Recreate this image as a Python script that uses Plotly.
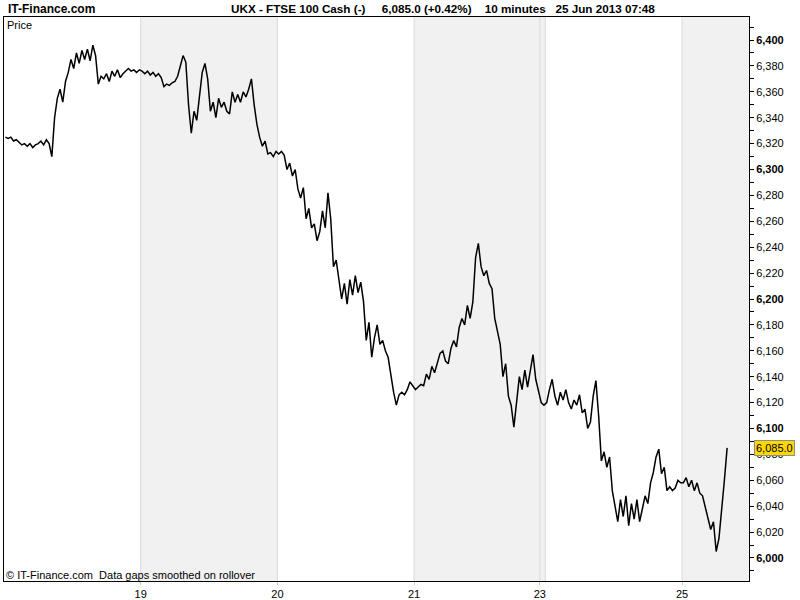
import plotly.graph_objects as go

# ---------------- data (10-minute closes) ----------------
day_labels = ["18", "19", "20", "21", "23", "24", "25"]

day18 = [6325, 6324, 6325, 6322, 6323, 6321, 6319, 6320, 6318, 6320,
         6317, 6319, 6320, 6322, 6319, 6323, 6320, 6310, 6340, 6355,
         6362, 6352, 6368, 6375, 6385, 6378, 6390, 6382, 6392, 6385,
         6393, 6384, 6396, 6388, 6366, 6372, 6370, 6374, 6368, 6376,
         6372, 6377, 6371, 6374, 6376, 6378, 6376, 6377, 6375, 6377]
day19 = [6376, 6374, 6376, 6373, 6375, 6372, 6374, 6371, 6364, 6366,
         6365, 6367, 6368, 6372, 6380, 6388, 6383, 6350, 6328, 6345,
         6338, 6355, 6375, 6382, 6370, 6345, 6352, 6340, 6355, 6348,
         6352, 6345, 6343, 6360, 6352, 6358, 6352, 6360, 6356, 6362,
         6370, 6350, 6335, 6325, 6318, 6322, 6312, 6313, 6310, 6314]
day20 = [6312, 6314, 6311, 6300, 6305, 6295, 6300, 6285, 6278, 6286,
         6262, 6270, 6255, 6258, 6245, 6252, 6268, 6255, 6282, 6262,
         6225, 6230, 6215, 6200, 6212, 6196, 6215, 6203, 6218, 6205,
         6213, 6198, 6168, 6182, 6155, 6170, 6180, 6165, 6168, 6160,
         6155, 6140, 6128, 6118, 6126, 6128, 6126, 6130, 6136, 6133]
day21 = [6130, 6132, 6134, 6133, 6142, 6138, 6148, 6143, 6150, 6158,
         6160, 6152, 6150, 6162, 6168, 6163, 6178, 6185, 6180, 6195,
         6185, 6198, 6232, 6243, 6225, 6218, 6222, 6212, 6208, 6185,
         6175, 6165, 6140, 6150, 6125, 6118, 6101, 6122, 6140, 6130,
         6145, 6132, 6145, 6157, 6138, 6130]
day23 = [6120, 6118]
day24 = [6120, 6130, 6138, 6125, 6118, 6128, 6122, 6130, 6120, 6115,
         6122, 6118, 6126, 6112, 6115, 6100, 6105, 6125, 6137, 6110,
         6075, 6082, 6070, 6078, 6052, 6040, 6028, 6045, 6032, 6048,
         6025, 6042, 6030, 6045, 6028, 6038, 6048, 6042, 6058, 6066,
         6078, 6084, 6065, 6070, 6052, 6055, 6052, 6054, 6060, 6058]
day25 = [6058, 6062, 6055, 6060, 6052, 6058, 6050, 6048, 6040, 6030,
         6022, 6028, 6005, 6015, 6035, 6060, 6085]

day_prices = [day18, day19, day20, day21, day23, day24, day25]
labelled_days = ["19", "20", "21", "23", "25"]
shaded_days = ["19", "21", "23", "25"]

y_ticks = list(range(6000, 6401, 20))
last_price = 6085.0
header = ("UKX - FTSE 100 Cash (-)\u00a0\u00a0\u00a0\u00a0 6,085.0 (+0.42%)"
          "\u00a0\u00a0\u00a0 10 minutes\u00a0\u00a0 25 Jun 2013 07:48")

# ---------------- build series on a bar-index axis ----------------
xs, ys, bounds = [], [], []
i = 0
for vals in day_prices:
    start = i - 0.5
    for v in vals:
        xs.append(i)
        ys.append(v)
        i += 1
    bounds.append((start, i - 0.5))
day_start = {lab: b[0] for lab, b in zip(day_labels, bounds)}
x_end = 272.0
y_range = [5982.2, 6417.8]

fig = go.Figure()
fig.add_trace(go.Scatter(x=xs, y=ys, mode="lines",
                         line=dict(color="black", width=1.5),
                         hoverinfo="skip", showlegend=False))

shapes = []
for lab, (s, e) in zip(day_labels, bounds):
    if lab in shaded_days:
        shapes.append(dict(type="rect", xref="x", yref="paper",
                           x0=s, x1=x_end if lab == "25" else e,
                           y0=0, y1=1, fillcolor="#f1f1f1",
                           line=dict(width=0), layer="below"))
for lab, (s, e) in zip(day_labels[1:], bounds[1:]):
    shapes.append(dict(type="line", xref="x", yref="paper", x0=s, x1=s,
                       y0=0, y1=1, line=dict(color="#d9d9d9", width=1),
                       layer="below"))

tick_text = []
for v in y_ticks:
    t = f"{v:,}"
    tick_text.append(f"<b>{t}</b>" if v % 100 == 0 else t)

font = "Liberation Sans, Arial, sans-serif"
annotations = [
    dict(text="<b>IT-Finance.com</b>", xref="paper", yref="paper",
         x=(6 - 4) / 745, y=(581 - 9) / 564, xanchor="left", yanchor="middle",
         showarrow=False, font=dict(size=12, color="black", family=font)),
    dict(text="<b>" + header + "</b>", xref="paper", yref="paper",
         x=(229 - 4) / 745, y=(581 - 9) / 564, xanchor="left", yanchor="middle",
         showarrow=False, font=dict(size=11.7, color="black", family=font)),
    dict(text="Price", xref="paper", yref="paper",
         x=(5 - 4) / 745, y=(581 - 25) / 564, xanchor="left", yanchor="middle",
         showarrow=False, font=dict(size=11, color="black", family=font)),
    dict(text="\u00a9 IT-Finance.com\u00a0 Data gaps smoothed on rollover",
         xref="paper", yref="paper",
         x=(4 - 4) / 745, y=(581 - 575) / 564, xanchor="left", yanchor="middle",
         showarrow=False, font=dict(size=11, color="black", family=font)),
    dict(text=f"{last_price:,.1f}", xref="paper", yref="y",
         x=1, y=last_price, xanchor="left", yanchor="middle", xshift=5,
         showarrow=False, bgcolor="#ffd700", bordercolor="#8c8c8c",
         borderwidth=1, borderpad=1,
         font=dict(size=11, color="black", family=font)),
]

fig.update_layout(
    width=800, height=600,
    margin=dict(l=4, r=51, t=17, b=19, autoexpand=False),
    paper_bgcolor="white", plot_bgcolor="white",
    shapes=shapes, annotations=annotations,
    font=dict(family=font, size=11, color="black"),
    xaxis=dict(range=[-0.5, x_end], showgrid=False, zeroline=False,
               tickvals=[day_start[d] for d in labelled_days],
               ticktext=labelled_days, ticks="outside", ticklen=3,
               tickcolor="#c8c8c8", showline=True, linecolor="black",
               linewidth=1, mirror=True,
               tickfont=dict(size=11, family=font, color="black")),
    yaxis=dict(range=y_range, side="right", showgrid=False, zeroline=False,
               tickvals=y_ticks, ticktext=tick_text, ticks="outside",
               ticklen=4, tickcolor="black", showline=True,
               linecolor="black", linewidth=1, mirror=True,
               minor=dict(ticks="outside", ticklen=4, tickcolor="black",
                          dtick=10, tick0=6000),
               tickfont=dict(size=11, family=font, color="black")),
)

fig.write_html("out.html",
               config={"displayModeBar": False},
               post_script="document.body.style.margin='0';"
                           "document.body.style.overflow='hidden';")
